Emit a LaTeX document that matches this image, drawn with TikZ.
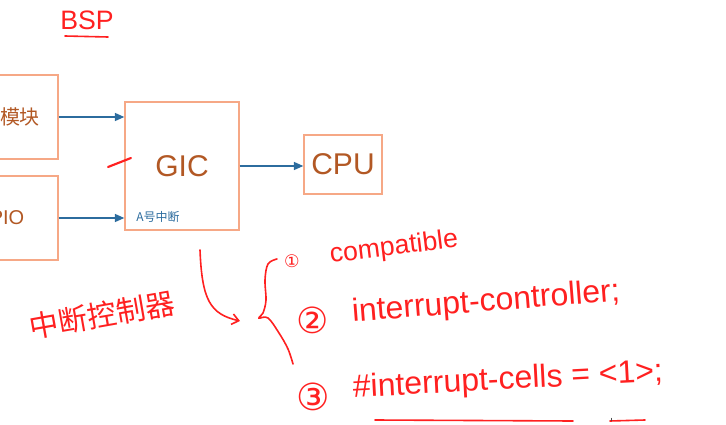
\documentclass[tikz,border=0pt]{standalone}
\usepackage{fontspec}
\setmainfont{Liberation Sans}
\newfontfamily\cjk{Noto Sans CJK SC}
\newfontfamily\circfont{DejaVu Sans}
\usetikzlibrary{arrows.meta}
\definecolor{boxline}{RGB}{246,168,134}
\definecolor{blockbrown}{RGB}{178,88,36}
\definecolor{linkblue}{RGB}{44,108,158}
\definecolor{inkred}{RGB}{255,32,32}
\begin{document}
\begin{tikzpicture}[x=0.75pt,y=-0.75pt,block/.style={draw=boxline, line width=1.1pt, text=blockbrown, inner sep=0pt},link/.style={draw=linkblue, line width=1pt, -{Triangle[length=7pt,width=6pt]}},hand/.style={text=inkred, inner sep=0pt},ink/.style={draw=inkred, line width=1.2pt, line cap=round}]
\useasboundingbox (0,0) rectangle (726,425); \clip (0,0) rectangle (726,425);
% blocks
\node[block, minimum width=57pt, minimum height=63pt, font=\cjk\fontsize{15}{18}\selectfont] (mod) at (20,117) {模块};
\node[block, minimum width=76.5pt, minimum height=63pt, font=\fontsize{15}{18}\selectfont] (pio) at (7,218) {PIO};
\node[block, minimum width=85.5pt, minimum height=96pt, font=\fontsize{22.5}{27}\selectfont] (gic) at (182,166) {GIC};
\node[block, minimum width=58.5pt, minimum height=44.25pt, font=\fontsize{22.5}{27}\selectfont] (cpu) at (343,164.5) {CPU};
\node[text=linkblue, inner sep=0pt, font=\cjk\fontsize{9}{11}\selectfont] (irqa) at (158,217) {A号中断};
\draw[link] (mod.east) -- (mod.east -| gic.west);
\draw[link] (pio.east) -- (pio.east -| gic.west);
\draw[link] (gic.east) -- (cpu.west |- gic.east);
% handwritten notes
\node[hand, font=\fontsize{20}{24}\selectfont] (bsp) at (87,20) {BSP};
\draw[ink] (65,36) -- (108,37);
\draw[ink, line width=1.6pt] (108,167) -- (131,158);
\node[hand, rotate=10, font=\cjk\fontsize{22}{26}\selectfont] (ctrl) at (102,315) {中断控制器};
\coordinate (arrS) at (200,250); \coordinate (arrE) at (240,321);
\draw[ink, -{Straight Barb[length=5pt,width=8pt]}] (arrS) .. controls (202,300) and (210,314) .. (arrE);
\draw[ink] plot[smooth, tension=0.6] coordinates {(277,259) (268,264) (265,280) (266,300) (263,313) (259,318) (268,318) (279,333) (288,349) (293,364)};
\node[hand, font=\circfont\fontsize{13}{15}\selectfont] (n1) at (292,261) {①};
\node[hand, rotate=7, font=\fontsize{20}{24}\selectfont] (compat) at (394,248) {compatible};
\node[hand, font=\circfont\fontsize{27}{31}\selectfont] (n2) at (313,320) {②};
\node[hand, rotate=4.5, font=\fontsize{24}{28}\selectfont] (ictrl) at (486,303) {interrupt-controller;};
\node[hand, font=\circfont\fontsize{28}{32}\selectfont] (n3) at (313,397) {③};
\node[hand, rotate=3, font=\fontsize{24}{28}\selectfont] (icells) at (508,381) {\#interrupt-cells = <1>;};
\draw[ink] (375,420) -- (573,421);
\draw[ink] (610,421) -- (645,420);
\draw[black!70, line width=0.6pt] (611,417.5) -- (611,421);
\end{tikzpicture}
\end{document}
